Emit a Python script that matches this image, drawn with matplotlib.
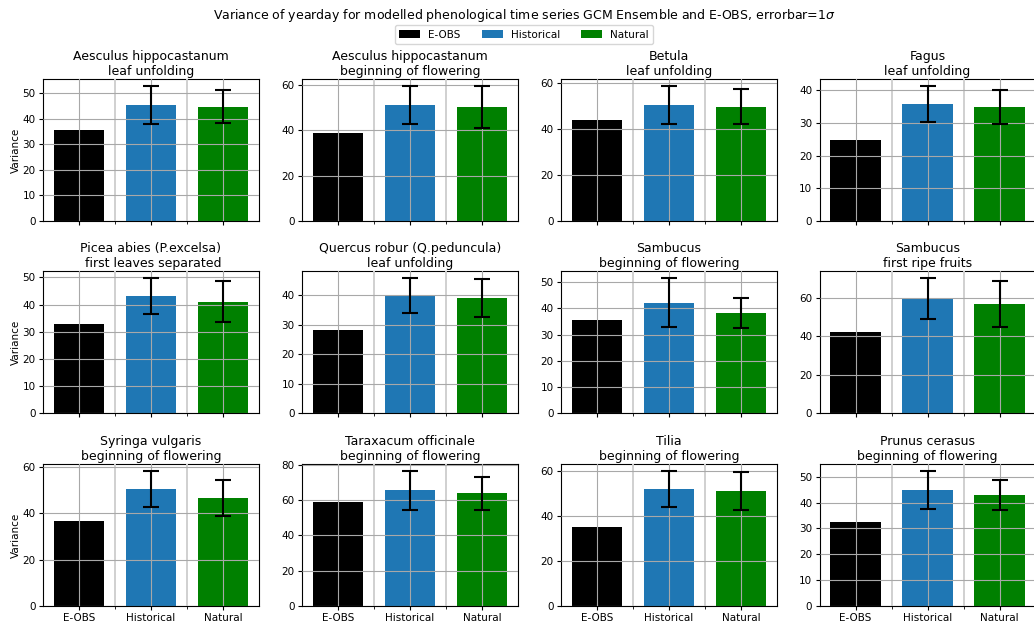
import numpy as np
import matplotlib
matplotlib.use("Agg")
import matplotlib.pyplot as plt
from matplotlib.patches import Patch

plt.rcParams.update({
    'font.family': 'DejaVu Sans',
    'font.size': 7.5,
    'axes.titlesize': 9,
    'axes.labelsize': 7.5,
    'xtick.labelsize': 7.5,
    'ytick.labelsize': 7.5,
    'legend.fontsize': 7.5,
    'axes.linewidth': 0.8,
    'xtick.major.size': 2.6,
    'ytick.major.size': 2.6,
    'xtick.minor.size': 2.0,
    'xtick.major.pad': 2.6,
    'ytick.major.pad': 2.6,
})

# data
groups = ['E-OBS', 'Historical', 'Natural']
colors = ['black', '#1f77b4', 'green']

titles = [
    "Aesculus hippocastanum\nleaf unfolding",
    "Aesculus hippocastanum\nbeginning of flowering",
    "Betula\nleaf unfolding",
    "Fagus\nleaf unfolding",
    "Picea abies (P.excelsa)\n first leaves separated",
    "Quercus robur (Q.peduncula)\nleaf unfolding",
    "Sambucus\nbeginning of flowering",
    "Sambucus\nfirst ripe fruits",
    "Syringa vulgaris\nbeginning of flowering",
    "Taraxacum officinale\nbeginning of flowering",
    "Tilia\nbeginning of flowering",
    "Prunus cerasus\nbeginning of flowering",
]

eobs = [35.7, 38.7, 44.0, 24.8, 32.9, 28.2, 35.7, 42.1, 36.9, 58.8, 35.1, 32.7]
hist = [45.5, 51.1, 50.6, 35.8, 43.3, 39.9, 42.2, 59.8, 50.6, 65.5, 52.0, 45.0]
hist_sd = [7.5, 8.4, 8.3, 5.55, 6.6, 6.05, 9.5, 10.9, 7.8, 11.1, 8.05, 7.35]
nat = [44.8, 50.2, 49.7, 34.9, 41.1, 39.1, 38.3, 56.8, 46.7, 63.8, 51.1, 43.1]
nat_sd = [6.4, 9.2, 7.6, 5.25, 7.5, 6.35, 5.85, 11.95, 7.85, 9.4, 8.45, 5.8]

W, H = 1034, 627
fig = plt.figure(figsize=(W / 100, H / 100), dpi=100)

col_left = [43, 302, 561, 819.5]
row_bottom = [221, 413, 606]
ax_w, ax_h = 216, 142

x = np.arange(3)
for i in range(12):
    r, c = divmod(i, 4)
    ax = fig.add_axes([col_left[c] / W, (H - row_bottom[r]) / H, ax_w / W, ax_h / H])
    vals = [eobs[i], hist[i], nat[i]]
    errs = [0, hist_sd[i], nat_sd[i]]
    ax.bar(x, vals, width=0.7, color=colors, zorder=1)
    ax.errorbar(x[1:], vals[1:], yerr=errs[1:], fmt='none', ecolor='black',
                elinewidth=1.5, capsize=6, capthick=1.5, zorder=3)
    ax.set_xlim(-0.5, 2.5)
    ax.set_ylim(bottom=0)
    ax.set_xticks(x)
    ax.set_xticks([0.5, 1.5], minor=True)
    ax.set_axisbelow(False)
    ax.grid(True, which='major', color='#a8a8a8', lw=0.8, zorder=2)
    ax.grid(True, which='minor', axis='x', color='#d0d0d0', lw=1.4, zorder=2)
    if r == 2:
        ax.set_xticklabels(groups)
    else:
        ax.set_xticklabels([])
    if c == 0:
        ax.set_ylabel('Variance', labelpad=1)
    ax.set_title(titles[i], pad=3)

fig.text(524 / W, 1 - 15 / H,
         r"Variance of yearday for modelled phenological time series GCM Ensemble and E-OBS, errorbar=1$\sigma$",
         ha='center', va='center', fontsize=9)

handles = [Patch(facecolor=col) for col in colors]
fig.legend(handles, groups, loc='center', ncol=3,
           bbox_to_anchor=(524 / W, 1 - 34.5 / H))

fig.savefig('out.png', dpi=100)
